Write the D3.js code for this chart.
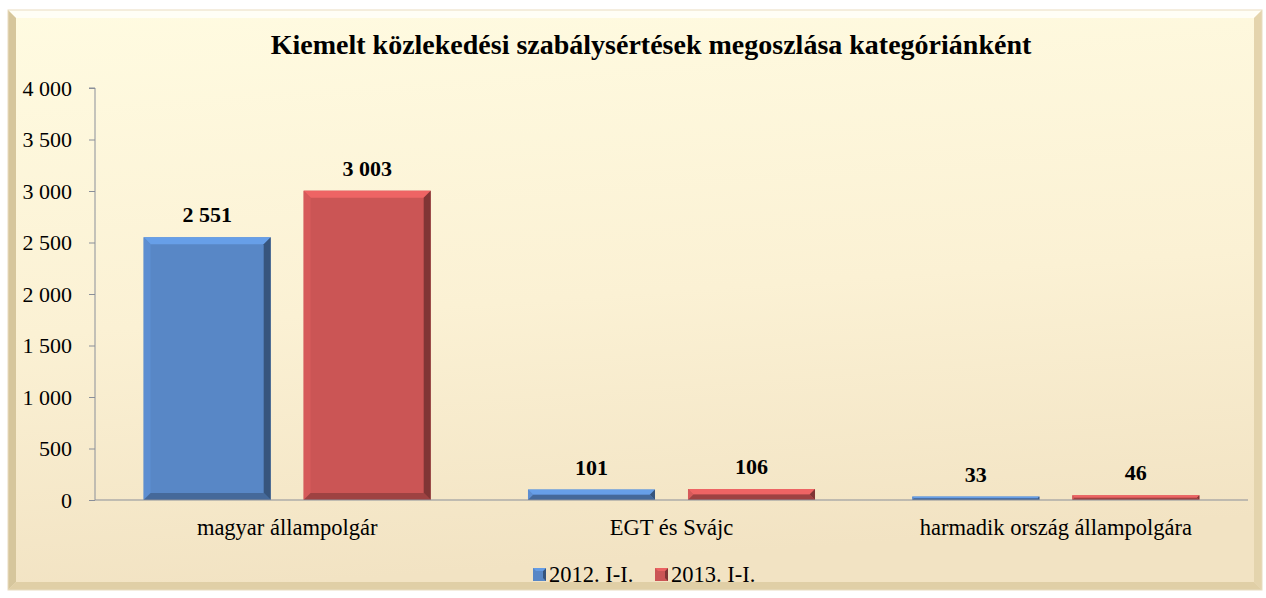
<!DOCTYPE html>
<html>
<head>
<meta charset="utf-8">
<script src="https://d3js.org/d3.v7.min.js"></script>
<style>
  body { margin: 0; background: #fff; }
  text { font-family: "Liberation Serif", "Times New Roman", serif; }
</style>
</head>
<body>
<script>
// chart data
var categories = ["magyar állampolgár", "EGT és Svájc", "harmadik ország állampolgára"];
var seriesNames = ["2012. I-I.", "2013. I-I."];
var values2012 = [2551, 101, 33];
var values2013 = [3003, 106, 46];
var yTicks = [0, 500, 1000, 1500, 2000, 2500, 3000, 3500, 4000];
var colors = ["#5887c6", "#cb5555"];

var W = 1266, H = 598;
var svg = d3.select("body").append("svg").attr("width", W).attr("height", H);
var defs = svg.append("defs");

// background gradient of the chart area
var bg = defs.append("linearGradient").attr("id", "bg")
  .attr("x1", 0).attr("y1", 0).attr("x2", 0.15).attr("y2", 1);
bg.append("stop").attr("offset", "0%").attr("stop-color", "#fffbe1");
bg.append("stop").attr("offset", "55%").attr("stop-color", "#fbf1d4");
bg.append("stop").attr("offset", "100%").attr("stop-color", "#f2e3c3");

var fx0 = 8, fy0 = 10, fx1 = 1262, fy1 = 590, bw = 8;
svg.append("rect").attr("x", fx0).attr("y", fy0).attr("width", fx1 - fx0).attr("height", fy1 - fy0)
  .attr("fill", "url(#bg)");
// bevel around the frame
svg.append("polygon").attr("points", [[fx0, fy0], [fx1, fy0], [fx1 - bw, fy0 + bw], [fx0 + bw, fy0 + bw]].join(" "))
  .attr("fill", "#fffef6");
svg.append("polygon").attr("points", [[fx0, fy0], [fx0 + bw, fy0 + bw], [fx0 + bw, fy1 - bw], [fx0, fy1]].join(" "))
  .attr("fill", "#d6c69c");
svg.append("polygon").attr("points", [[fx1, fy0], [fx1, fy1], [fx1 - bw, fy1 - bw], [fx1 - bw, fy0 + bw]].join(" "))
  .attr("fill", "#e4d4ad");
svg.append("polygon").attr("points", [[fx0, fy1], [fx1, fy1], [fx1 - bw, fy1 - bw], [fx0 + bw, fy1 - bw]].join(" "))
  .attr("fill", "#e0cfa6");
svg.append("rect").attr("x", fx0).attr("y", fy0).attr("width", fx1 - fx0).attr("height", fy1 - fy0)
  .attr("fill", "none").attr("stroke", "#e9dcc0").attr("stroke-width", 1);

svg.append("text").attr("x", 651).attr("y", 54).attr("text-anchor", "middle")
  .style("font-size", "28px").style("font-weight", "bold")
  .text("Kiemelt közlekedési szabálysértések megoszlása kategóriánként");

var plotLeft = 95, plotRight = 1248, plotTop = 88, plotBottom = 500;
var x = d3.scaleBand().domain(categories).range([plotLeft, plotRight]).paddingInner(0).paddingOuter(0);
var x1 = d3.scaleBand().domain(seriesNames).range([0, x.bandwidth()]).paddingInner(0.206).paddingOuter(0.304);
var y = d3.scaleLinear().domain([0, 4000]).range([plotBottom, plotTop]);

var fmt = function (v) { return d3.format(",")(v).replace(/,/g, " "); };

// y axis
var yAxis = svg.append("g").attr("transform", "translate(" + plotLeft + ",0)")
  .call(d3.axisLeft(y).tickValues(yTicks).tickSize(6).tickPadding(17).tickFormat(fmt));
yAxis.select(".domain").attr("stroke", "#8a8f99").attr("d", "M-6," + plotTop + "H0V" + plotBottom);
yAxis.selectAll(".tick line").attr("stroke", "#8a8f99");
yAxis.selectAll(".tick text").style("font-size", "22px").attr("fill", "#000")
  .style("font-family", "'Liberation Serif', serif");

// bars with bevel
var data = [];
categories.forEach(function (c, i) {
  data.push({ cat: c, s: seriesNames[0], v: values2012[i], ci: 0 });
  data.push({ cat: c, s: seriesNames[1], v: values2013[i], ci: 1 });
});

function shade(col, k) { return d3.color(col).darker(k).formatHex(); }
function tint(col, k) { return d3.color(col).brighter(k).formatHex(); }

var bars = svg.append("g").selectAll("g").data(data).join("g");
bars.each(function (d) {
  var g = d3.select(this);
  var bx = x(d.cat) + x1(d.s), bwid = x1.bandwidth();
  var by = y(d.v), bh = plotBottom - by;
  var col = colors[d.ci];
  var b = Math.min(7, bh / 2);
  g.append("rect").attr("x", bx).attr("y", by).attr("width", bwid).attr("height", bh).attr("fill", col);
  g.append("polygon").attr("points", [[bx, by], [bx + bwid, by], [bx + bwid - b, by + b], [bx + b, by + b]].join(" "))
    .attr("fill", tint(col, 0.45));
  g.append("polygon").attr("points", [[bx, by], [bx + b, by + b], [bx + b, plotBottom - b], [bx, plotBottom]].join(" "))
    .attr("fill", tint(col, 0.15));
  g.append("polygon").attr("points", [[bx + bwid, by], [bx + bwid, plotBottom], [bx + bwid - b, plotBottom - b], [bx + bwid - b, by + b]].join(" "))
    .attr("fill", shade(col, 1.3));
  g.append("polygon").attr("points", [[bx, plotBottom], [bx + bwid, plotBottom], [bx + bwid - b, plotBottom - b], [bx + b, plotBottom - b]].join(" "))
    .attr("fill", shade(col, 0.7));
  g.append("text").attr("x", bx + bwid / 2).attr("y", by - 15).attr("text-anchor", "middle")
    .style("font-size", "22px").style("font-weight", "bold").text(fmt(d.v));
});

// x axis
var xAxis = svg.append("g").attr("transform", "translate(0," + plotBottom + ")")
  .call(d3.axisBottom(x).tickSize(0).tickPadding(19));
xAxis.select(".domain").attr("stroke", "#8a8f99").attr("d", "M" + plotLeft + ",0H" + plotRight);
xAxis.selectAll(".tick text").style("font-size", "22.5px").attr("fill", "#000")
  .style("font-family", "'Liberation Serif', serif");

// legend
var legendPos = [[533, 575], [655, 575]];
var legend = svg.append("g").selectAll("g").data(seriesNames).join("g")
  .attr("transform", function (d, i) { return "translate(" + legendPos[i][0] + "," + legendPos[i][1] + ")"; });
legend.each(function (d, i) {
  var g = d3.select(this), col = colors[i];
  g.append("rect").attr("x", 0).attr("y", -7).attr("width", 13).attr("height", 13).attr("fill", col);
  g.append("polygon").attr("points", "13,-7 13,6 10,3 10,-4").attr("fill", shade(col, 1.3));
  g.append("polygon").attr("points", "0,-7 13,-7 10,-4 3,-4").attr("fill", tint(col, 0.4));
  g.append("text").attr("x", 16).attr("y", 7).style("font-size", "22.5px").text(d);
});
</script>
</body>
</html>
